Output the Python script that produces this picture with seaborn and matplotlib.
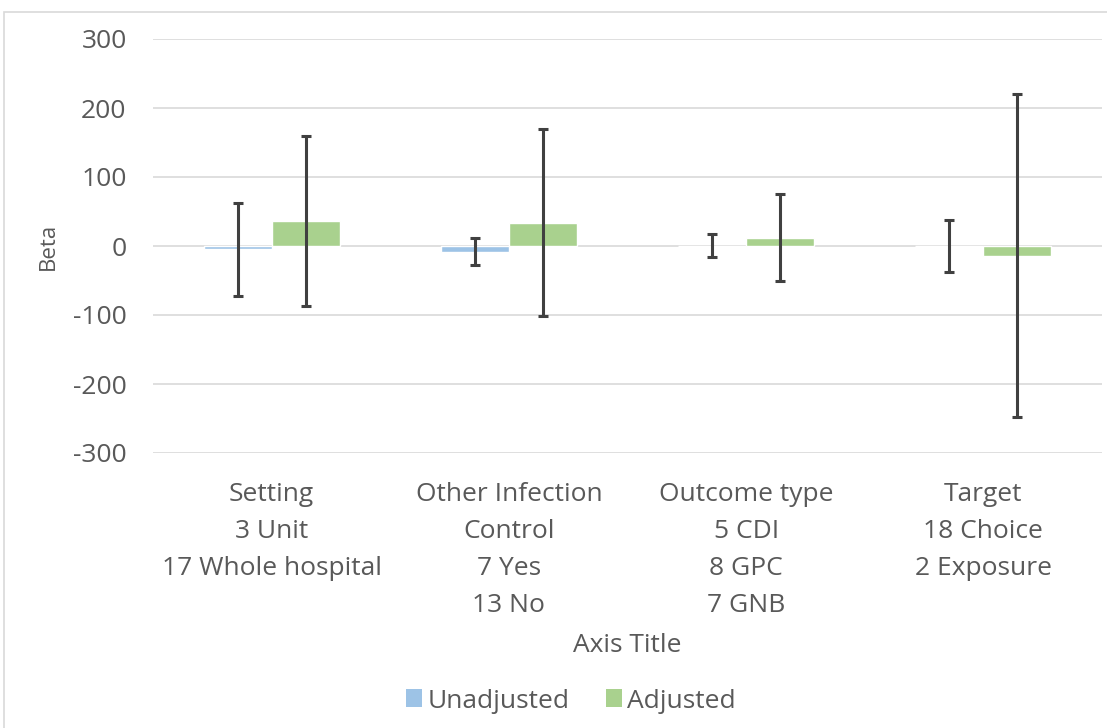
import matplotlib
matplotlib.use("Agg")
import matplotlib.pyplot as plt
import seaborn as sns
import pandas as pd
import numpy as np
from matplotlib.patches import Rectangle

categories = ["Setting\n3 Unit\n17 Whole hospital",
              "Other Infection\nControl\n7 Yes\n13 No",
              "Outcome type\n5 CDI\n8 GPC\n7 GNB",
              "Target\n18 Choice\n2 Exposure"]
series = ["Unadjusted", "Adjusted"]
unadj_beta = [-5, -8, 0, 0]
unadj_low = [-73, -28, -16, -37]
unadj_high = [63, 12, 18, 37]
adj_beta = [36, 34, 12, -14]
adj_low = [-87, -101, -51, -248]
adj_high = [159, 169, 75, 221]
yticks = [-300, -200, -100, 0, 100, 200, 300]

sns.set_theme(style="white")
plt.rcParams["font.family"] = ["Open Sans", "DejaVu Sans"]

df = pd.DataFrame({
    "cat": categories * 2,
    "series": [series[0]] * 4 + [series[1]] * 4,
    "beta": unadj_beta + adj_beta,
})

fig = plt.figure(figsize=(11.07, 7.28), dpi=100)
ax = fig.add_axes([153 / 1107, 1 - 453 / 728, (1102 - 153) / 1107, (453 - 39) / 728])

palette = {"Unadjusted": "#9DC3E6", "Adjusted": "#A9D18E"}
sns.barplot(data=df, x="cat", y="beta", hue="series", hue_order=series,
            order=categories, palette=palette, width=0.574, errorbar=None,
            saturation=1, ax=ax, legend=False)

lows = [unadj_low, adj_low]
highs = [unadj_high, adj_high]
vals = [unadj_beta, adj_beta]
bar_containers = list(ax.containers)
for i, cont in enumerate(bar_containers):
    xs = [p.get_x() + p.get_width() / 2 for p in cont.patches]
    v = np.array(vals[i], dtype=float)
    lo = v - np.array(lows[i])
    hi = np.array(highs[i]) - v
    ax.errorbar(xs, v, yerr=[lo, hi], fmt="none", ecolor="#404040",
                elinewidth=2.2, capsize=3.5, capthick=2.2, zorder=5)

ax.set_ylim(-300, 300)
ax.set_xlim(-0.5, 3.5)
ax.set_yticks(yticks)
ax.set_yticklabels([str(t) for t in yticks])
ax.yaxis.grid(True, color="#D9D9D9", linewidth=1.2)
ax.set_axisbelow(True)
for s in ax.spines.values():
    s.set_visible(False)
ax.tick_params(axis="y", length=0, pad=19, labelsize=19, labelcolor="#595959")
ax.tick_params(axis="x", length=0, pad=21, labelsize=19, labelcolor="#595959")
for lbl in ax.get_xticklabels():
    lbl.set_linespacing(1.63)
    lbl.set_verticalalignment("top")
ax.set_ylabel("Beta", fontsize=16, color="#595959", labelpad=10)
ax.set_xlabel("")
fig.text(627 / 1107, 1 - 646 / 728, "Axis Title", ha="center", va="center",
         fontsize=19, color="#595959")

handles = [Rectangle((0, 0), 1, 1, facecolor=palette[s], edgecolor="none") for s in series]
fig.legend(handles, series, loc="center", bbox_to_anchor=(571 / 1107, 1 - 701 / 728),
           ncol=2, frameon=False, fontsize=19, handlelength=0.6, handleheight=0.65,
           handletextpad=0.2, columnspacing=1.4, labelcolor="#595959")

fig.patches.append(Rectangle((4 / 1107, -0.05), 1.1, 0.05 + 1 - 12 / 728,
                             transform=fig.transFigure, fill=False,
                             edgecolor="#D9D9D9", linewidth=1.2))

fig.savefig("out.png", dpi=100, facecolor="white")
